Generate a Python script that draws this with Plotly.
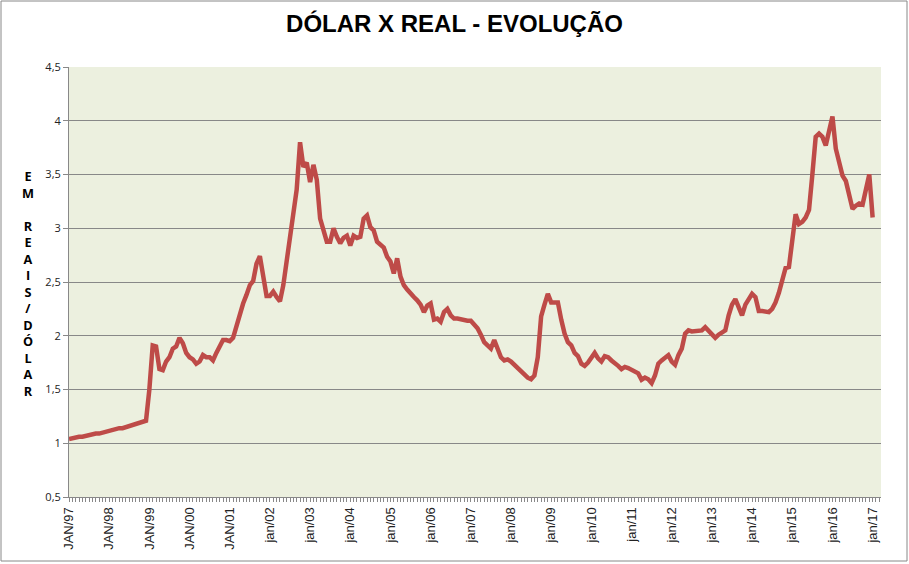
import plotly.graph_objects as go

# Monthly BRL per USD, Jan/1997 .. Jan/2017
y1997 = [1.04, 1.05, 1.05, 1.06, 1.06, 1.07, 1.07, 1.08, 1.09, 1.09, 1.10, 1.11]
y1998 = [1.12, 1.12, 1.13, 1.14, 1.14, 1.15, 1.16, 1.16, 1.17, 1.18, 1.19, 1.21]
y1999 = [1.50, 1.91, 1.90, 1.69, 1.68, 1.76, 1.80, 1.88, 1.90, 1.98, 1.93, 1.84]
y2000 = [1.80, 1.78, 1.74, 1.76, 1.82, 1.80, 1.80, 1.77, 1.84, 1.90, 1.96, 1.96]
y2001 = [1.95, 1.98, 2.09, 2.19, 2.30, 2.38, 2.47, 2.51, 2.67, 2.74, 2.52, 2.37]
y2002 = [2.37, 2.41, 2.36, 2.32, 2.47, 2.70, 2.92, 3.14, 3.36, 3.80, 3.57, 3.61]
y2003 = [3.43, 3.59, 3.45, 3.09, 2.97, 2.875, 2.875, 3.00, 2.92, 2.86, 2.91, 2.93]
y2004 = [2.84, 2.93, 2.91, 2.92, 3.09, 3.12, 3.01, 2.98, 2.875, 2.84, 2.82, 2.735]
y2005 = [2.69, 2.58, 2.72, 2.55, 2.47, 2.43, 2.39, 2.36, 2.33, 2.29, 2.22, 2.28]
y2006 = [2.30, 2.15, 2.16, 2.13, 2.22, 2.25, 2.19, 2.16, 2.16, 2.15, 2.15, 2.14]
y2007 = [2.14, 2.10, 2.07, 2.01, 1.94, 1.91, 1.88, 1.96, 1.87, 1.80, 1.77, 1.78]
y2008 = [1.76, 1.73, 1.70, 1.68, 1.64, 1.61, 1.595, 1.63, 1.80, 2.18, 2.29, 2.39]
y2009 = [2.31, 2.31, 2.31, 2.15, 2.02, 1.94, 1.91, 1.84, 1.81, 1.74, 1.72, 1.75]
y2010 = [1.79, 1.84, 1.79, 1.76, 1.81, 1.80, 1.77, 1.75, 1.72, 1.69, 1.71, 1.70]
y2011 = [1.68, 1.67, 1.65, 1.59, 1.61, 1.595, 1.56, 1.63, 1.74, 1.77, 1.79, 1.82]
y2012 = [1.76, 1.73, 1.82, 1.88, 2.02, 2.05, 2.04, 2.04, 2.04, 2.05, 2.08, 2.05]
y2013 = [2.01, 1.98, 2.01, 2.03, 2.05, 2.19, 2.29, 2.34, 2.26, 2.19, 2.29, 2.35]
y2014 = [2.39, 2.36, 2.23, 2.23, 2.22, 2.22, 2.25, 2.31, 2.40, 2.52, 2.63, 2.64]
y2015 = [2.85, 3.13, 3.04, 3.06, 3.10, 3.17, 3.50, 3.85, 3.88, 3.85, 3.77, 3.90]
y2016 = [4.04, 3.74, 3.60, 3.49, 3.44, 3.30, 3.18, 3.21, 3.23, 3.22, 3.38, 3.50]
y2017 = [3.10]

values = (y1997 + y1998 + y1999 + y2000 + y2001 + y2002 + y2003 + y2004 + y2005
          + y2006 + y2007 + y2008 + y2009 + y2010 + y2011 + y2012 + y2013
          + y2014 + y2015 + y2016 + y2017)
months = list(range(len(values)))

tick_labels = ["JAN/97", "JAN/98", "JAN/99", "JAN/00", "JAN/01",
               "jan/02", "jan/03", "jan/04", "jan/05", "jan/06", "jan/07",
               "jan/08", "jan/09", "jan/10", "jan/11", "jan/12", "jan/13",
               "jan/14", "jan/15", "jan/16", "jan/17"]
tick_pos = [12 * i for i in range(len(tick_labels))]

fig = go.Figure()
fig.add_trace(go.Scatter(x=months, y=values, mode="lines",
                         line=dict(color="#BE4B48", width=4.5),
                         showlegend=False, hoverinfo="skip"))

L, R, T, B = 69, 28, 67, 67
W, H = 909, 564
pw, ph = W - L - R, H - T - B

fig.update_layout(
    width=W, height=H,
    margin=dict(l=L, r=R, t=T, b=B),
    paper_bgcolor="white",
    plot_bgcolor="#ECF0DF",
    separators=",.",
    title=dict(text="<b>DÓLAR X REAL - EVOLUÇÃO</b>", x=0.5, xanchor="center",
               y=1 - 24 / H, yanchor="middle",
               font=dict(family="Liberation Sans, Arial", size=24, color="black")),
    font=dict(family="Liberation Sans, Arial", size=11, color="#222"),
    xaxis=dict(range=[0, 242.5], tickmode="array", tickvals=tick_pos,
               ticktext=tick_labels, tickangle=-90, ticks="outside",
               ticklen=4, tickcolor="#888", showgrid=False, zeroline=False,
               showline=True, linecolor="#888", linewidth=1,
               tickfont=dict(family="Liberation Sans, Arial", size=13, color="#222"),
               minor=dict(tickmode="linear", tick0=0, dtick=1, ticks="outside",
                          ticklen=4, tickcolor="#888", showgrid=False)),
    yaxis=dict(range=[0.5, 4.5], dtick=0.5, tick0=0.5, ticks="outside",
               ticklen=5, tickcolor="#888", showgrid=True, gridcolor="#888",
               gridwidth=1, zeroline=False, showline=True, linecolor="#888",
               linewidth=1,
               tickfont=dict(family="Open Sans, Liberation Sans", size=11, color="#222")),
)

fig.add_annotation(
    text="<b>E<br>M<br><br>R<br>E<br>A<br>I<br>S<br>/<br>D<br>Ó<br>L<br>A<br>R</b>",
    xref="paper", yref="paper", x=(28 - L) / pw, y=(497 - 283) / ph,
    xanchor="center", yanchor="middle", showarrow=False, align="center",
    font=dict(family="Open Sans, Liberation Sans", size=12.7, color="black"))

# chart-area border
fig.add_shape(type="rect", xref="paper", yref="paper",
              x0=(1 - L) / pw, x1=(907 - L) / pw,
              y0=(497 - 561) / ph, y1=(497 - 1) / ph,
              line=dict(color="#888", width=1), fillcolor="rgba(0,0,0,0)",
              layer="above")

fig.write_html("out.html")
